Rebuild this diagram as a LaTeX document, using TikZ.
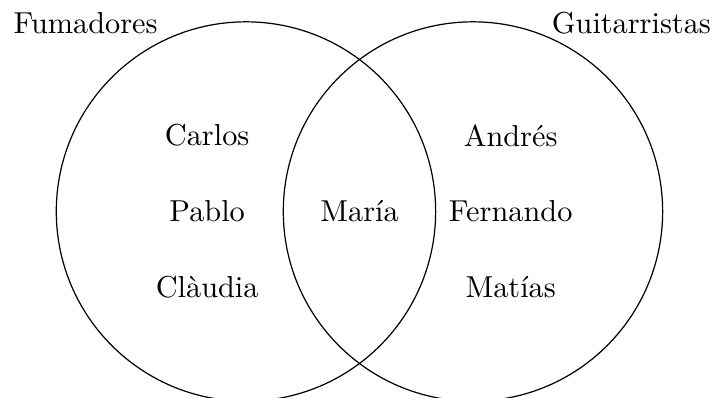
\documentclass[tikz,border=0pt]{standalone}
\usepackage{tikz}
\tikzset{nombre/.style={inner sep=0pt}}
\begin{document}
\begin{tikzpicture}
	\useasboundingbox (-2.853,-2.163) rectangle (5.44,2.453);
	\coordinate (F) at (0,0);
	\coordinate (G) at (2.633,0);
	\draw (F) circle (2.2);
	\draw (G) circle (2.2);
	\node[anchor=base] (fum) at (-1.86,2.07) {Fumadores};
	\node[anchor=base] (gui) at (4.47,2.07) {Guitarristas};
	\node[nombre] (carlos) at (-0.45,0.88) {Carlos};
	\node[nombre] (pablo) at (-0.45,0) {Pablo};
	\node[nombre] (claudia) at (-0.45,-0.88) {Clàudia};
	\node[nombre] (maria) at (1.317,0) {María};
	\node[nombre] (andres) at (3.07,0.88) {Andrés};
	\node[nombre] (fernando) at (3.07,0) {Fernando};
	\node[nombre] (matias) at (3.07,-0.88) {Matías};
\end{tikzpicture}
\end{document}
